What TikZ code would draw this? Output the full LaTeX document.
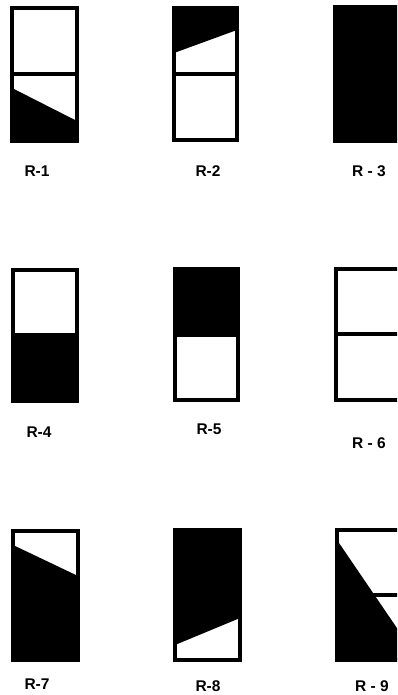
\documentclass[tikz,border=0pt]{standalone}
\usepackage{fontspec}
\setmainfont{Liberation Sans}
\begin{document}
\begin{tikzpicture}[x=1pt,y=-1pt,
  frame/.style={draw=black,line width=3.8pt,line join=miter},
  divider/.style={draw=black,line width=4pt},
  dark/.style={fill=black},
  lab/.style={font=\fontsize{15.5}{18}\selectfont\bfseries,inner sep=0pt}]
\useasboundingbox (0,0) rectangle (397,695);
\begin{scope}
\clip (0,0) rectangle (397,695);
% R-1
\fill[dark] (12,88) -- (77,121) -- (77,141) -- (12,141) -- cycle;
\draw[divider] (12,74.5) -- (77,74.5);
\draw[frame] (12,8) rectangle (77,141);
% R-2
\fill[dark] (174,8) -- (237,8) -- (237,30) -- (174,53) -- cycle;
\draw[divider] (174,74.5) -- (237,74.5);
\draw[frame] (174,8) rectangle (237,140);
% R-3
\fill[dark] (333,5) rectangle (402,143);
% R-4
\fill[dark] (13,333) rectangle (77,401);
\draw[frame] (13,270) rectangle (77,401);
% R-5
\fill[dark] (175,269) rectangle (238,337);
\draw[frame] (175,269) rectangle (238,400);
% R-6
\draw[divider] (336,334) -- (400,334);
\draw[frame] (336,269) rectangle (400,400);
% R-7
\fill[dark] (13,545) -- (78,576) -- (78,660) -- (13,660) -- cycle;
\draw[frame] (13,531) rectangle (78,660);
% R-8
\fill[dark] (175,530) -- (240,530) -- (240,618) -- (175,645) -- cycle;
\draw[frame] (175,530) rectangle (240,660);
% R-9
\draw[divider] (337,595) -- (401,595);
\fill[dark] (337,540) -- (401,634) -- (401,660) -- (337,660) -- cycle;
\draw[frame] (337,530) rectangle (401,660);
\end{scope}
% labels
\node[lab] (l1) at (37,171) {R-1};
\node[lab] (l2) at (208,171) {R-2};
\node[lab] (l3) at (369,171) {R - 3};
\node[lab] (l4) at (39,432) {R-4};
\node[lab] (l5) at (209,429) {R-5};
\node[lab] (l6) at (369,443) {R - 6};
\node[lab] (l7) at (37,684) {R-7};
\node[lab] (l8) at (208,686) {R-8};
\node[lab] (l9) at (372,686) {R - 9};
\end{tikzpicture}
\end{document}
